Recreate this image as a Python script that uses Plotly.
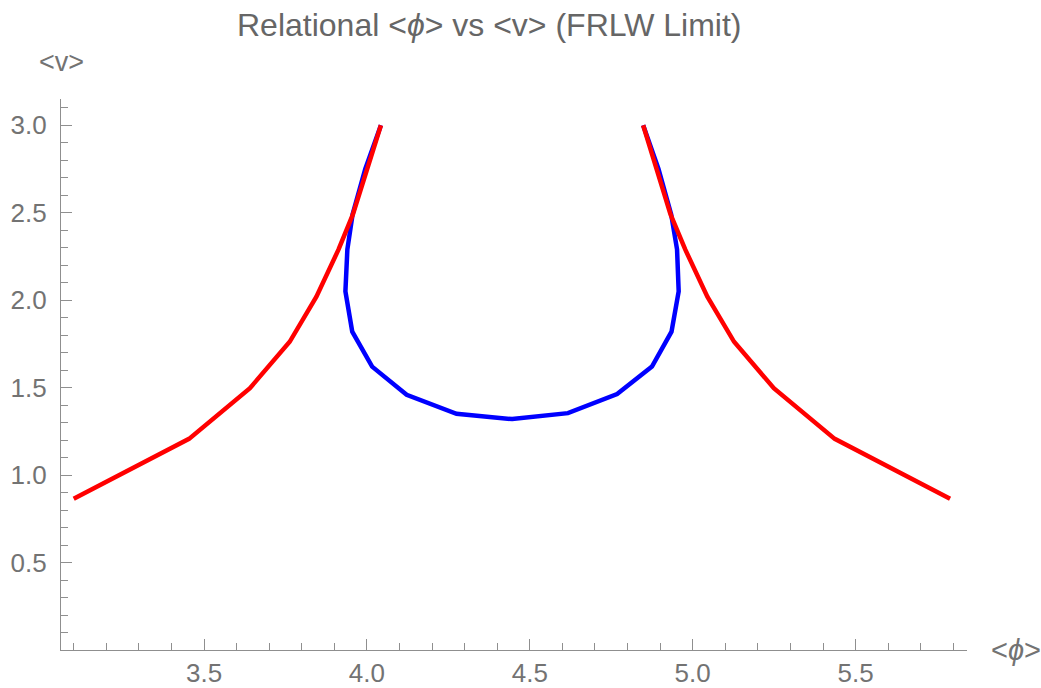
import plotly.graph_objects as go

# Blue curve (<phi>, <v>)
blue_phi = [4.043, 3.995, 3.956, 3.940, 3.934, 3.955, 4.016, 4.122, 4.275, 4.446,
            4.617, 4.768, 4.875, 4.935, 4.957, 4.952, 4.934, 4.895, 4.848]
blue_v = [3.00, 2.75, 2.49, 2.29, 2.05, 1.82, 1.62, 1.459, 1.35, 1.32,
          1.354, 1.463, 1.62, 1.82, 2.05, 2.29, 2.49, 2.75, 3.00]

# Red curve, left branch and right branch
red_left_phi = [3.100, 3.454, 3.641, 3.763, 3.845, 3.913, 3.957, 4.043]
red_left_v = [0.864, 1.207, 1.497, 1.762, 2.02, 2.29, 2.49, 3.00]
red_right_phi = [4.848, 4.932, 4.977, 5.045, 5.127, 5.249, 5.436, 5.790]
red_right_v = [3.00, 2.49, 2.29, 2.02, 1.762, 1.497, 1.207, 0.864]

x_ticks = [3.5, 4.0, 4.5, 5.0, 5.5]
x_ticklabels = ["3.5", "4.0", "4.5", "5.0", "5.5"]
y_ticks = [0.5, 1.0, 1.5, 2.0, 2.5, 3.0]
y_ticklabels = ["0.5", "1.0", "1.5", "2.0", "2.5", "3.0"]

FONT = "Liberation Sans, Arial, sans-serif"
LABEL_COLOR = "#737373"
AXIS_COLOR = "#8f8f8f"

fig = go.Figure()
fig.add_trace(go.Scatter(x=blue_phi, y=blue_v, mode="lines",
                         line=dict(color="#0000ff", width=4.5), showlegend=False))
fig.add_trace(go.Scatter(x=red_left_phi, y=red_left_v, mode="lines",
                         line=dict(color="#ff0000", width=4.5), showlegend=False))
fig.add_trace(go.Scatter(x=red_right_phi, y=red_right_v, mode="lines",
                         line=dict(color="#ff0000", width=4.5), showlegend=False))

PW = 1041 - 61 - 74
PH = 688 - 99 - 38

fig.update_layout(
    width=1041, height=688,
    margin=dict(l=61, r=74, t=99, b=38),
    paper_bgcolor="white", plot_bgcolor="white",
    font=dict(family=FONT, color=LABEL_COLOR),
    xaxis=dict(range=[3.061, 5.842], showgrid=False, zeroline=False, automargin=False,
               showline=True, linecolor=AXIS_COLOR, linewidth=1.2,
               ticks="inside", ticklen=11, tickcolor=AXIS_COLOR, tickwidth=1.2,
               tickvals=x_ticks, ticktext=x_ticklabels,
               tickfont=dict(size=26, color=LABEL_COLOR, family=FONT),
               ticklabelstandoff=0,
               minor=dict(ticks="inside", ticklen=7, dtick=0.1, tick0=0,
                          tickcolor=AXIS_COLOR, tickwidth=1.2, showgrid=False)),
    yaxis=dict(range=[0, 3.15], showgrid=False, zeroline=False, automargin=False,
               showline=True, linecolor=AXIS_COLOR, linewidth=1.2,
               ticks="inside", ticklen=11, tickcolor=AXIS_COLOR, tickwidth=1.2,
               tickvals=y_ticks, ticktext=y_ticklabels,
               tickfont=dict(size=26, color=LABEL_COLOR, family=FONT),
               ticklabelstandoff=8,
               minor=dict(ticks="inside", ticklen=7, dtick=0.1, tick0=0,
                          tickcolor=AXIS_COLOR, tickwidth=1.2, showgrid=False)),
    annotations=[
        dict(text="Relational &lt;<i>ϕ</i>&gt; vs &lt;v&gt; (FRLW Limit)",
             xref="paper", yref="paper", x=(489 - 61) / PW,
             y=1 + (99 - 25) / PH, xanchor="center", yanchor="middle",
             showarrow=False, font=dict(size=32, color="#666666", family=FONT)),
        dict(text="&lt;v&gt;", xref="paper", yref="paper", x=0,
             y=1 + (99 - 62) / PH, xanchor="center", yanchor="middle",
             showarrow=False, font=dict(size=27, color=LABEL_COLOR, family=FONT)),
        dict(text="&lt;<i>ϕ</i>&gt;", xref="paper", yref="paper",
             x=1 + (989 - 967) / PW, y=0, xanchor="left", yanchor="middle",
             showarrow=False, font=dict(size=29, color=LABEL_COLOR, family=FONT)),
    ],
)

fig.write_html("out.html")
